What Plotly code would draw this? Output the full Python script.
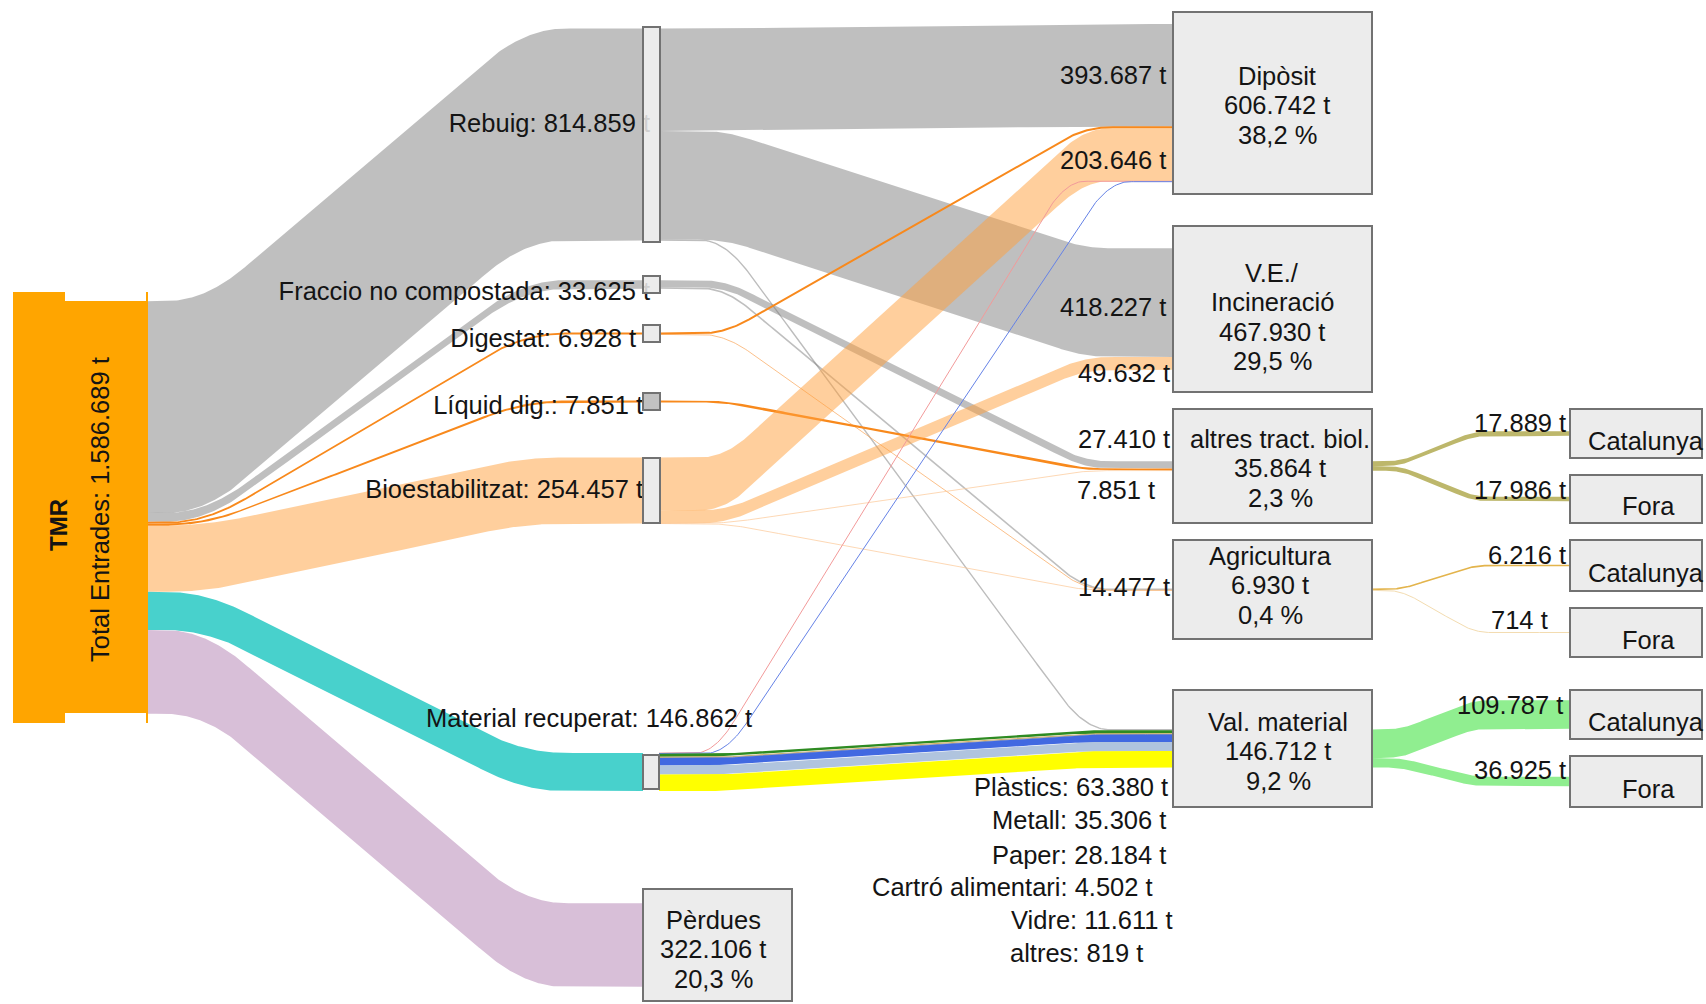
import numpy as np
import plotly.graph_objects as go

# ======================= DATA =======================
node_names = ["TMR", "Rebuig", "Fraccio no compostada", "Digestat", "Líquid dig.",
              "Bioestabilitzat", "Material recuperat", "Pèrdues",
              "Dipòsit", "V.E./Incineració", "altres tract. biol.", "Agricultura",
              "Val. material", "Catalunya", "Fora", "Catalunya", "Fora",
              "Catalunya", "Fora"]

tmr_total = 1586689

# links: source -> target (tonnes)
link_source = [0, 0, 0, 0, 0, 0, 0,
               1, 1, 1,
               2, 2,
               3, 3,
               4,
               5, 5, 5, 5,
               6, 6, 6, 6, 6, 6, 6, 6,
               10, 10,
               11, 11,
               12, 12]
link_target = [1, 2, 3, 4, 5, 6, 7,
               8, 9, 12,
               10, 11,
               8, 11,
               10,
               8, 9, 10, 11,
               8, 8, 12, 12, 12, 12, 12, 12,
               13, 14,
               15, 16,
               17, 18]
link_value = [814859, 33625, 6928, 7851, 254457, 146862, 322106,
              393687, 418227, 2945,
              27410, 6215,
              6349, 579,
              7851,
              203646, 49632, 603, 136,
              1530, 1530, 11611, 4502, 819, 28184, 35306, 63380,
              17889, 17986,
              6216, 714,
              109787, 36925]

level1_nodes = [1, 2, 3, 4, 5, 6]
level1_values = [814859, 33625, 6928, 7851, 254457, 146862]

box_nodes = [8, 9, 10, 11, 12, 7]
box_title_lines = [["Dipòsit"], ["V.E./", "Incineració"], ["altres tract. biol."],
                   ["Agricultura"], ["Val. material"], ["Pèrdues"]]
box_values = [606742, 467930, 35864, 6930, 146712, 322106]
box_pct = [38.2, 29.5, 2.3, 0.4, 9.2, 20.3]

flow_label_values = [393687, 203646, 418227, 49632, 27410, 7851, 14477]
export_label_values = [17889, 17986, 6216, 714, 109787, 36925]
export_nodes = [13, 14, 15, 16, 17, 18]

material_names = ["Plàstics", "Metall", "Paper", "Cartró alimentari", "Vidre", "altres"]
material_values = [63380, 35306, 28184, 4502, 11611, 819]

# ======================= STYLE / LAYOUT =======================
W, H = 1706, 1004
SCALE = 0.00026          # px per tonne
FONT = "Liberation Sans, Arial, sans-serif"
FS = 25.5
TXT = "#141414"

GRAY = "rgba(128,128,128,0.5)"
PEACH = "rgba(255,160,60,0.5)"
ORANGE = "rgb(248,137,28)"
link_color = [GRAY, GRAY, ORANGE, ORANGE, PEACH, "#48d1cc", "#d8bfd8",
              GRAY, GRAY, "#bdbdbd",
              GRAY, GRAY,
              ORANGE, "rgba(248,150,60,0.6)",
              ORANGE,
              PEACH, PEACH, "rgba(252,200,150,0.7)", "rgba(252,200,150,0.7)",
              "#f29a9a", "#6582e6",
              "#2e8b22", "#d9b36a", "#a0a0a0", "#4169e1", "#b0c4de", "#ffff00",
              "#bdb76b", "#bdb76b",
              "#e3b44c", "#f3dcb0",
              "#90ee90", "#90ee90"]
LINK_MIN_W = {9: 1.4, 12: 2.0}

# node boxes (x0, x1, y0, y1) in pixel units
NODE_BOX = {
    0: (13, 147, 292, 723),
    1: (643, 660, 27, 242),
    2: (643, 660, 276, 293),
    3: (643, 660, 325, 342),
    4: (643, 660, 393, 410),
    5: (643, 660, 458, 523),
    6: (643, 659, 755, 789),
    7: (643, 792, 889, 1001),
    8: (1173, 1372, 12, 194),
    9: (1173, 1372, 226, 392),
    10: (1173, 1372, 409, 523),
    11: (1173, 1372, 540, 639),
    12: (1173, 1372, 690, 807),
    13: (1570, 1702, 409, 458),
    14: (1570, 1702, 475, 523),
    15: (1570, 1702, 540, 591),
    16: (1570, 1702, 608, 657),
    17: (1570, 1702, 690, 739),
    18: (1570, 1702, 756, 807),
}
NODE_LEVEL = {0: 0, 1: 1, 2: 1, 3: 1, 4: 1, 5: 1, 6: 1, 7: 1,
              8: 2, 9: 2, 10: 2, 11: 2, 12: 2}
# transition zone per source level: (x_start, x_end, corner fraction)
TRANS = {0: (165, 565, 0.2), 1: (700, 1110, 0.12), 2: (1385, 1490, 0.3)}
LINK_TRANS = {19: (695, 1085, 0.1), 20: (705, 1130, 0.1)}

LEVEL1_LABEL_POS = [(650, 126), (650, 294), (636, 341), (643, 408), (643, 492), (752, 721)]
BOX_TEXT_CENTER = [(1277, 105), (1272, 317), (1280, 468), (1270, 585), (1278, 751), (713, 949)]
LINE_GAP = 29.5
FLOW_LABEL_POS = [(1168, 75), (1168, 160), (1168, 307), (1172, 373), (1172, 439),
                  (1157, 490), (1172, 587)]
EXPORT_LABEL_POS = [(1568, 423), (1568, 490), (1568, 555), (1550, 620), (1565, 705), (1568, 770)]
MATERIAL_LABEL_POS = [(1170, 787), (1168, 820), (1168, 855), (1155, 887), (1175, 920), (1145, 953)]


def fmt_t(v):
    return f"{v:,}".replace(",", ".") + " t"


def fmt_pct(p):
    return f"{p:.1f}".replace(".", ",") + " %"


def ease(u, r):
    u = np.clip(u, 0, 1)
    vm = 1.0 / (1.0 - r)
    return np.where(u < r, vm * u ** 2 / (2 * r),
                    np.where(u > 1 - r, 1 - vm * (1 - u) ** 2 / (2 * r),
                             vm * (r / 2 + (u - r))))


# ======================= LINK GEOMETRY =======================
N = len(node_names)
tot_out = np.zeros(N)
tot_in = np.zeros(N)
for s_, t_, v in zip(link_source, link_target, link_value):
    tot_out[s_] += v
    tot_in[t_] += v
center = {n: (b[2] + b[3]) / 2 for n, b in NODE_BOX.items()}
off_out = np.zeros(N)
off_in = np.zeros(N)

fig = go.Figure()

for i, (s_, t_, v) in enumerate(zip(link_source, link_target, link_value)):
    w = v * SCALE
    ya = center[s_] - tot_out[s_] * SCALE / 2 + off_out[s_]
    yb = center[t_] - tot_in[t_] * SCALE / 2 + off_in[t_]
    off_out[s_] += w
    off_in[t_] += w
    xa = NODE_BOX[s_][1]
    xb = NODE_BOX[t_][0]
    xs, xe, r = LINK_TRANS.get(i, TRANS[NODE_LEVEL[s_]])
    x = np.linspace(xa, xb, 300)
    f = ease((x - xs) / (xe - xs), r)
    top = ya + (yb - ya) * f
    if w >= 2.0:
        fig.add_trace(go.Scatter(
            x=np.concatenate([x, x[::-1]]),
            y=np.concatenate([top, (top + w)[::-1]]),
            mode="lines", fill="toself", fillcolor=link_color[i],
            line=dict(width=0), hoverinfo="skip", showlegend=False))
    else:
        fig.add_trace(go.Scatter(
            x=x, y=top + w / 2, mode="lines",
            line=dict(color=link_color[i], width=max(w, LINK_MIN_W.get(i, 1.0))),
            hoverinfo="skip", showlegend=False))

# level-1 labels as text traces (drawn under the node boxes)
for n, v, (lx, ly) in zip(level1_nodes, level1_values, LEVEL1_LABEL_POS):
    fig.add_trace(go.Scatter(
        x=[lx], y=[ly], mode="text", text=[f"{node_names[n]}: {fmt_t(v)}"],
        textposition="middle left",
        textfont=dict(family=FONT, size=FS, color=TXT),
        hoverinfo="skip", showlegend=False))

# ======================= NODES =======================
shapes = []
bx = NODE_BOX[0]
shapes.append(dict(type="rect", x0=bx[0], x1=bx[0] + 52, y0=bx[2], y1=bx[3],
                   fillcolor="#ffa500", line=dict(width=0), layer="above"))
shapes.append(dict(type="rect", x0=bx[0], x1=bx[1], y0=bx[2] + 9, y1=bx[3] - 10,
                   fillcolor="#ffa500", line=dict(width=0), layer="above"))
shapes.append(dict(type="line", x0=bx[1], x1=bx[1], y0=bx[2], y1=bx[3],
                   line=dict(color="#ffa500", width=2), layer="above"))
for n in range(1, N):
    b = NODE_BOX[n]
    fill = "rgba(188,188,188,0.92)" if n == 4 else "rgba(233,233,233,0.88)"
    shapes.append(dict(type="rect", x0=b[0], x1=b[1], y0=b[2], y1=b[3],
                       fillcolor=fill, line=dict(color="#727272", width=2),
                       layer="above"))

annotations = []


def ann(x, y, text, xanchor="center", size=FS, angle=0):
    annotations.append(dict(x=x, y=y, xref="x", yref="y", text=text, showarrow=False,
                            xanchor=xanchor, yanchor="middle", textangle=angle,
                            font=dict(family=FONT, size=size, color=TXT)))


# TMR text
ann(58, 525, "<b>TMR</b>", size=24, angle=-90)
ann(100, 510, "Total Entrades: " + fmt_t(tmr_total), angle=-90)

# box texts
for lines, v, p, (cx, cy) in zip(box_title_lines, box_values, box_pct, BOX_TEXT_CENTER):
    all_lines = lines + [fmt_t(v), fmt_pct(p)]
    k = len(all_lines)
    for j, t in enumerate(all_lines):
        ann(cx, cy + (j - (k - 1) / 2) * LINE_GAP, t)

# flow labels
for v, (lx, ly) in zip(flow_label_values, FLOW_LABEL_POS):
    ann(lx, ly, fmt_t(v), xanchor="right")
for v, (lx, ly) in zip(export_label_values, EXPORT_LABEL_POS):
    ann(lx, ly, fmt_t(v), xanchor="right")
for nm, v, (lx, ly) in zip(material_names, material_values, MATERIAL_LABEL_POS):
    ann(lx, ly, f"{nm}: {fmt_t(v)}", xanchor="right")

# export box labels
for n in export_nodes:
    b = NODE_BOX[n]
    cy = (b[2] + b[3]) / 2 + 7
    if node_names[n] == "Catalunya":
        ann(b[0] + 16, cy, node_names[n], xanchor="left")
    else:
        ann((b[0] + b[1]) / 2 + 12, cy, node_names[n])

fig.update_layout(
    width=W, height=H, margin=dict(l=0, r=0, t=0, b=0),
    paper_bgcolor="white", plot_bgcolor="white",
    xaxis=dict(range=[0, W], visible=False, fixedrange=True),
    yaxis=dict(range=[H, 0], visible=False, fixedrange=True),
    shapes=shapes, annotations=annotations, showlegend=False,
)

fig.write_html("out.html", config={"displayModeBar": False},
               post_script="document.body.style.margin='0';document.body.style.overflow='hidden';")
